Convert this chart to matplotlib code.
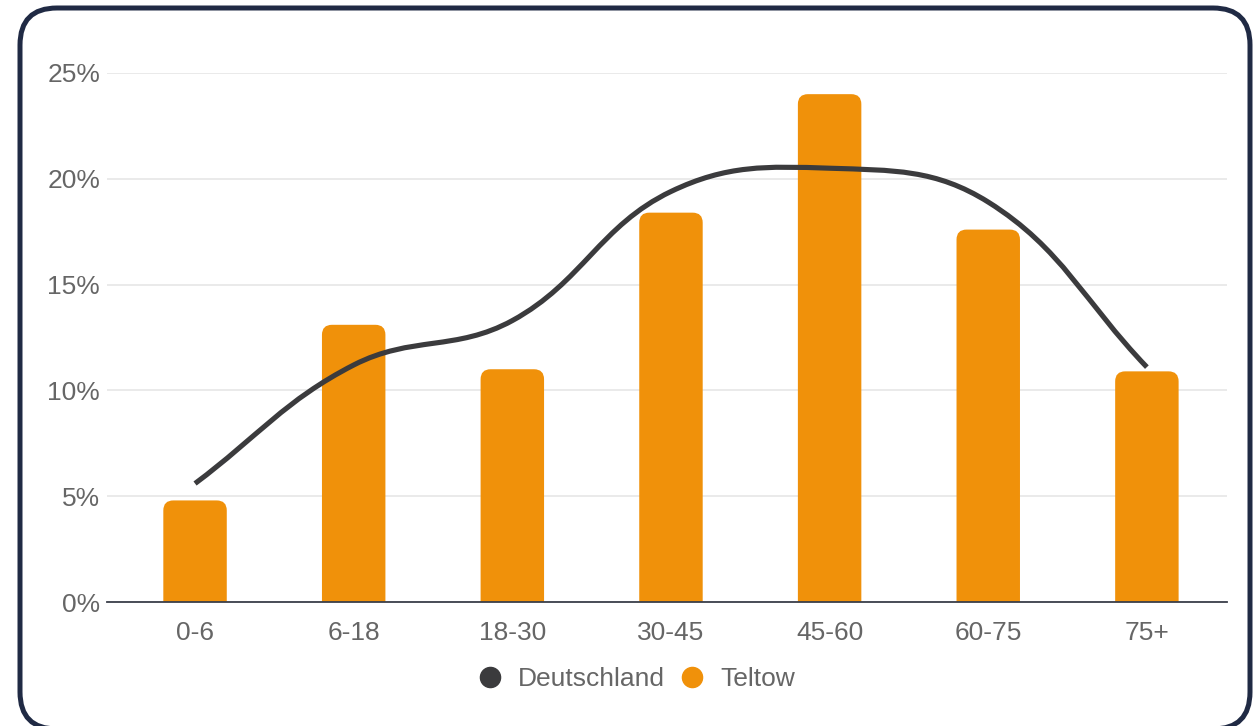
import numpy as np
import matplotlib
matplotlib.use('Agg')
import matplotlib.pyplot as plt
from matplotlib.patches import FancyBboxPatch, PathPatch
from matplotlib.path import Path
from matplotlib.lines import Line2D
from matplotlib.ticker import FuncFormatter, FixedLocator
from matplotlib.transforms import IdentityTransform

# ---------------- data ----------------
categories = ['0-6', '6-18', '18-30', '30-45', '45-60', '60-75', '75+']
teltow = [4.8, 13.1, 11.0, 18.4, 24.0, 17.6, 10.9]
deutschland = [5.6, 11.2, 13.3, 19.4, 20.5, 18.9, 11.1]
y_ticks = [0, 5, 10, 15, 20, 25]
series_labels = ['Deutschland', 'Teltow']

# ---------------- style ----------------
W, H = 1259, 726
BAR_COLOR = '#F0910A'
LINE_COLOR = '#3b3b3d'
TEXT_COLOR = '#666666'
FONT = 'Liberation Sans'
FS = 19

plt.rcParams['font.family'] = [FONT, 'DejaVu Sans']

fig = plt.figure(figsize=(W / 100, H / 100), dpi=100)

# card border
card = FancyBboxPatch((20, -3), 1230, 721,
                      boxstyle='round,pad=0,rounding_size=37',
                      transform=IdentityTransform(), facecolor='none',
                      edgecolor='#202a44', linewidth=3.6, zorder=10)
fig.patches.append(card)

left, right, bottom, top = 107, 1227, 602, 73
ax = fig.add_axes([left / W, 1 - bottom / H, (right - left) / W, (bottom - top) / H])
ax.set_facecolor('none')

x = np.arange(len(categories))
ax.set_xlim(-0.555, 6.505)
ax.set_ylim(0, 25)

# grid
ax.yaxis.set_major_locator(FixedLocator(y_ticks))
ax.yaxis.set_major_formatter(FuncFormatter(lambda v, p: f'{v:.0f}%'))
ax.grid(axis='y', color='#e6e6e6', linewidth=1.2, zorder=0)
ax.set_axisbelow(True)
for s in ['top', 'right', 'left']:
    ax.spines[s].set_visible(False)
ax.spines['bottom'].set_color('#3a3f4a')
ax.spines['bottom'].set_linewidth(1.3)
ax.spines['bottom'].set_zorder(4)
ax.set_xticks(x)
ax.set_xticklabels(categories)
ax.tick_params(axis='both', length=0, labelsize=FS, labelcolor=TEXT_COLOR)
ax.tick_params(axis='x', pad=14)
ax.tick_params(axis='y', pad=5)

# bars (rounded top corners)
bars = ax.bar(x, teltow, width=0.4, color=BAR_COLOR, zorder=2)
px_per_x = (right - left) / (ax.get_xlim()[1] - ax.get_xlim()[0])
px_per_y = (bottom - top) / (ax.get_ylim()[1] - ax.get_ylim()[0])
aspect = px_per_x / px_per_y
r_px = 10
for b in bars:
    bx, bw, bh = b.get_x(), b.get_width(), b.get_height()
    ext = 2.0
    p = FancyBboxPatch((bx, -ext), bw, bh + ext,
                       boxstyle=f'round,pad=0,rounding_size={r_px / px_per_x}',
                       mutation_aspect=aspect, facecolor=BAR_COLOR,
                       edgecolor='none', zorder=2, clip_on=True)
    ax.add_patch(p)
    b.set_visible(False)

# smooth line (Chart.js style cardinal spline, tension 0.4)
def spline_path(ax, xs, ys, tension=0.4):
    pts = ax.transData.transform(np.column_stack([xs, ys]))
    n = len(pts)
    cp_prev, cp_next = [], []
    for i in range(n):
        prev = pts[max(i - 1, 0)]
        cur = pts[i]
        nxt = pts[min(i + 1, n - 1)]
        d01 = np.hypot(*(cur - prev))
        d12 = np.hypot(*(nxt - cur))
        tot = d01 + d12
        s01 = d01 / tot if tot else 0
        s12 = d12 / tot if tot else 0
        fa, fb = tension * s01, tension * s12
        cp_prev.append(cur - fa * (nxt - prev))
        cp_next.append(cur + fb * (nxt - prev))
    verts = [pts[0]]
    codes = [Path.MOVETO]
    for i in range(1, n):
        verts += [cp_next[i - 1], cp_prev[i], pts[i]]
        codes += [Path.CURVE4] * 3
    verts = ax.transData.inverted().transform(np.array(verts))
    return Path(verts, codes)

path = spline_path(ax, x, deutschland)
ax.add_patch(PathPatch(path, facecolor='none', edgecolor=LINE_COLOR,
                       linewidth=3.7, capstyle='butt', joinstyle='round', zorder=3))

# legend
handles = [Line2D([], [], marker='o', ls='', color=LINE_COLOR, markersize=14.5),
           Line2D([], [], marker='o', ls='', color=BAR_COLOR, markersize=14.5)]
fig.legend(handles, series_labels, loc='center', bbox_to_anchor=(637 / W, 1 - 679 / H),
           ncol=2, frameon=False, fontsize=FS, labelcolor=TEXT_COLOR,
           handlelength=0.8, handletextpad=0.65, columnspacing=0.65, borderpad=0)

fig.savefig('out.png', dpi=100)
